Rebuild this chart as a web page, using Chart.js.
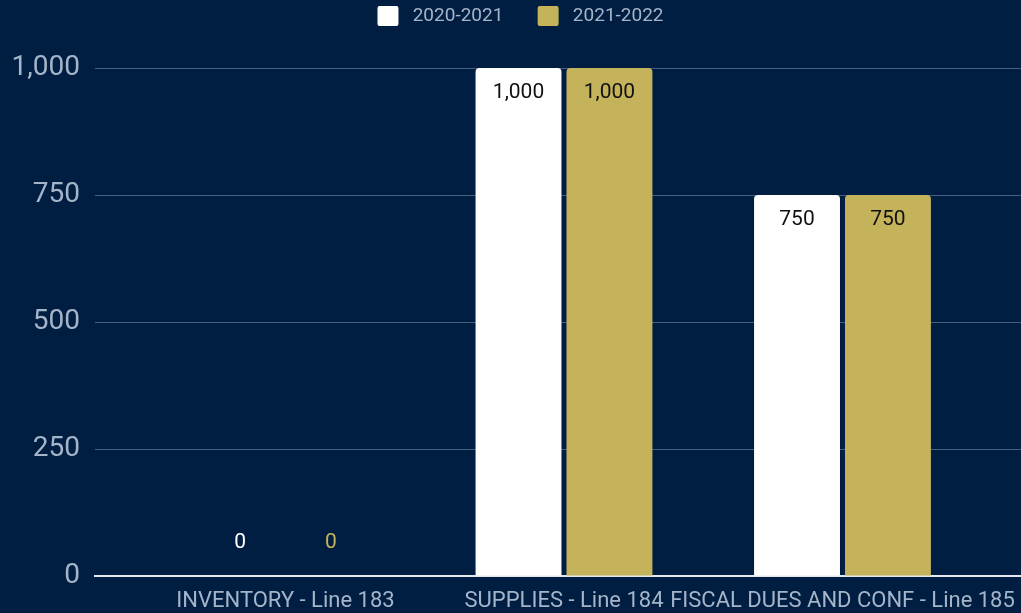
<!DOCTYPE html>
<html>
<head>
<meta charset="utf-8">
<script src="https://cdn.jsdelivr.net/npm/chart.js@4/dist/chart.umd.min.js"></script>
<style>
  html, body { margin: 0; padding: 0; background: #001e42; }
  #wrap { width: 1021px; height: 613px; }
</style>
</head>
<body>
<div id="wrap"><canvas id="c"></canvas></div>
<script>
'use strict';

// --- DATA ---
const categories = ['INVENTORY - Line 183', 'SUPPLIES - Line 184', 'FISCAL DUES AND CONF - Line 185'];
const seriesLabels = ['2020-2021', '2021-2022'];
const values2020 = [0, 1000, 750];
const values2021 = [0, 1000, 750];
const yTicks = [0, 250, 500, 750, 1000];

const WHITE = '#ffffff';
const GOLD = '#c4b35a';
const TICK = '#a5b5c9';

Chart.defaults.font.family = 'Roboto, sans-serif';

const toPoints = vals => vals.map((v, i) => ({ x: i, y: v }));

// labels drawn inside the top of each bar (or above baseline for zeros)
const barLabels = {
    id: 'barLabels',
    afterDatasetsDraw(chart) {
        const ctx = chart.ctx;
        ctx.save();
        ctx.font = '21px Roboto, sans-serif';
        ctx.textAlign = 'center';
        ctx.textBaseline = 'middle';
        chart.data.datasets.forEach((ds, di) => {
            const meta = chart.getDatasetMeta(di);
            meta.data.forEach((bar, i) => {
                const v = ds.data[i].y;
                const txt = v.toLocaleString('en-US');
                if (v === 0) {
                    ctx.fillStyle = ds.backgroundColor;
                    ctx.fillText(txt, bar.x, bar.base - 33);
                } else {
                    ctx.fillStyle = '#111111';
                    ctx.fillText(txt, bar.x, bar.y + 25);
                }
            });
        });
        ctx.restore();
    }
};

// extra room under the legend, and nudge it right a bit
const legendGap = {
    id: 'legendGap',
    beforeInit(chart) {
        const fit = chart.legend.fit;
        chart.legend.fit = function () {
            fit.call(this);
            this.height += 32;
        };
    },
    afterLayout(chart) {
        chart.legend.left += 10;
        chart.legend.right += 10;
    }
};

new Chart(document.getElementById('c'), {
    type: 'bar',
    data: {
        datasets: [
            {
                label: seriesLabels[0],
                data: toPoints(values2020),
                backgroundColor: WHITE,
                borderRadius: { topLeft: 4, topRight: 4 },
                borderSkipped: 'bottom',
                categoryPercentage: 0.653,
                barPercentage: 0.945
            },
            {
                label: seriesLabels[1],
                data: toPoints(values2021),
                backgroundColor: GOLD,
                borderRadius: { topLeft: 4, topRight: 4 },
                borderSkipped: 'bottom',
                categoryPercentage: 0.653,
                barPercentage: 0.945
            }
        ]
    },
    options: {
        responsive: true,
        maintainAspectRatio: false,
        animation: false,
        layout: { padding: 0 },
        plugins: {
            tooltip: { enabled: false },
            legend: {
                position: 'top',
                labels: {
                    color: TICK,
                    font: { size: 19 },
                    boxWidth: 21,
                    boxHeight: 20,
                    padding: 6,
                    useBorderRadius: true,
                    borderRadius: 2,
                    generateLabels(chart) {
                        return Chart.defaults.plugins.legend.labels.generateLabels(chart).map((item, i) => {
                            item.text = ' ' + item.text + (i === 0 ? '      ' : '');
                            item.strokeStyle = 'transparent';
                            item.lineWidth = 0;
                            return item;
                        });
                    }
                }
            }
        },
        scales: {
            x: {
                type: 'linear',
                offset: false,
                min: -0.684,
                max: 2.641,
                afterFit(scale) {
                    scale.height = 37;
                    scale.paddingLeft = 0;
                    scale.paddingRight = 0;
                },
                grid: { display: false, drawTicks: false, offset: false },
                border: { display: true, color: '#e4e8ee', width: 2 },
                ticks: {
                    stepSize: 1,
                    includeBounds: false,
                    autoSkip: false,
                    maxRotation: 0,
                    color: TICK,
                    font: { size: 22 },
                    padding: 12,
                    callback: v => Number.isInteger(v) ? categories[v] : ''
                }
            },
            y: {
                min: 0,
                max: 1000,
                afterFit(scale) { scale.width = 95; },
                afterBuildTicks(scale) { scale.ticks = yTicks.map(v => ({ value: v })); },
                grid: { color: '#465f80', lineWidth: 1, drawTicks: false },
                border: { display: false },
                ticks: {
                    color: TICK,
                    font: { size: 28 },
                    padding: 15
                }
            }
        }
    },
    plugins: [barLabels, legendGap]
});
</script>
</body>
</html>
